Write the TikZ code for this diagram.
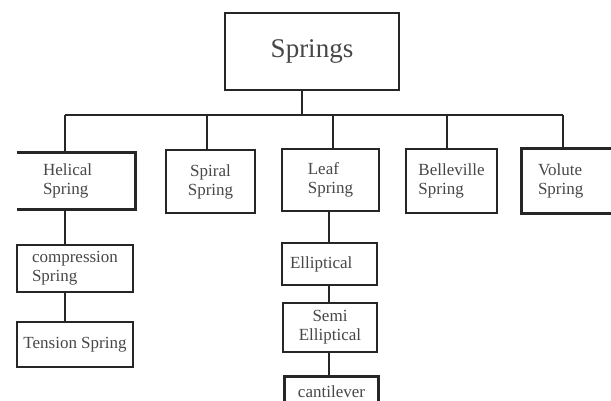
\documentclass[tikz,border=0pt]{standalone}
\usepackage{fontspec}
\setmainfont{Liberation Serif}
\begin{document}
\begin{tikzpicture}[x=1pt,y=-1pt,
  ln/.style={line width=2.7pt,draw=black!85},
  txt/.style={text=black!72,font=\fontsize{17}{19}\selectfont,align=center,inner sep=0pt},
  box/.style={txt,ln,rectangle},
  openbox/.style={txt,rectangle}]
\useasboundingbox[fill=white] (0,0) rectangle (611,401);
% nodes
\node[box,minimum width=174pt,minimum height=77pt,font=\fontsize{27}{30}\selectfont] (springs) at (312,51.5) {Springs};
\node[openbox,minimum height=56pt,align=left,inner xsep=26pt,text width=66pt] (helical) at (76,181) {Helical\\Spring};
\node[box,minimum width=89pt,minimum height=63pt] (spiral) at (210.5,181.5) {Spiral\\Spring};
\node[box,minimum width=97pt,minimum height=62pt,align=left] (leaf) at (330.5,180) {Leaf\\Spring};
\node[box,minimum width=91pt,minimum height=64pt,align=left] (belleville) at (451.5,181) {Belleville\\Spring};
\node[openbox,minimum height=64pt,align=left,inner xsep=16pt,text width=57pt] (volute) at (566.5,181) {Volute\\Spring};
\node[box,minimum width=116pt,minimum height=47pt,align=left] (compression) at (75,268.5) {compression\\Spring};
\node[box,minimum width=116pt,minimum height=45pt] (tension) at (75,344.5) {Tension Spring};
\node[box,minimum height=42pt,align=left,inner xsep=8pt,text width=79pt] (elliptical) at (329.5,264) {Elliptical};
\node[box,minimum width=94pt,minimum height=49pt] (semi) at (330,327.5) {Semi\\Elliptical};
\node[openbox,minimum width=93pt,minimum height=30pt] (cantilever) at (331.5,392) {cantilever};
% open (cut) boxes
\draw[ln] (helical.north west) -- (helical.north east) -- (helical.south east) -- (helical.south west);
\draw[ln] (volute.north east) -- (volute.north west) -- (volute.south west) -- (volute.south east);
\coordinate (pagebottom) at (0,401);
\draw[ln] (cantilever.north west |- pagebottom) -- (cantilever.north west) -- (cantilever.north east) -- (cantilever.north east |- pagebottom);
% bus
\coordinate (busL) at (65,115);
\coordinate (busR) at (563,115);
\coordinate (trunk) at (302,115);
\coordinate (d2) at (207,115);
\coordinate (d3) at (333,115);
\coordinate (d4) at (447,115);
\coordinate (leafx) at (329,0);
\draw[ln] (busL) -- (busR);
\draw[ln] (springs.south -| trunk) -- (trunk);
\draw[ln] (busL) -- (busL |- helical.north);
\draw[ln] (d2) -- (d2 |- spiral.north);
\draw[ln] (d3) -- (d3 |- leaf.north);
\draw[ln] (d4) -- (d4 |- belleville.north);
\draw[ln] (busR) -- (busR |- volute.north);
% helical column
\draw[ln] (helical.south -| busL) -- (compression.north -| busL);
\draw[ln] (compression.south -| busL) -- (tension.north -| busL);
% leaf column
\draw[ln] (leaf.south -| leafx) -- (elliptical.north -| leafx);
\draw[ln] (elliptical.south -| leafx) -- (semi.north -| leafx);
\draw[ln] (semi.south -| leafx) -- (cantilever.north -| leafx);
\end{tikzpicture}
\end{document}
